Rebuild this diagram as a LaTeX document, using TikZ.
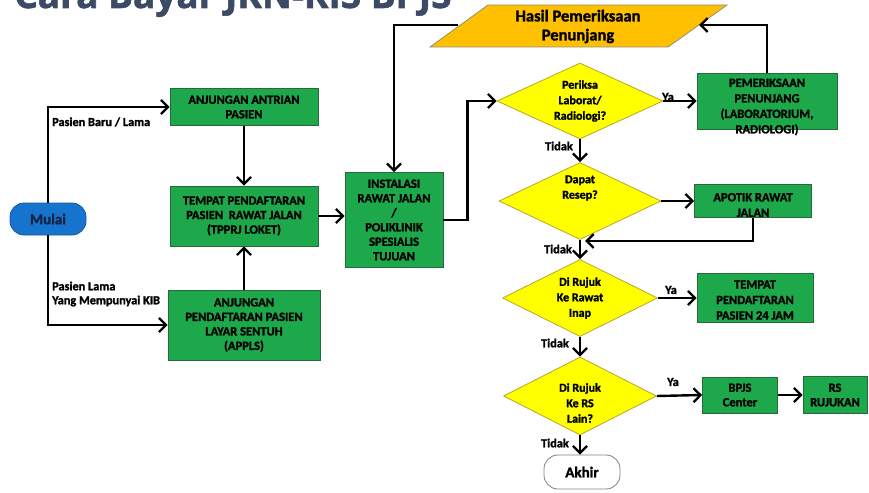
\documentclass[tikz,border=0pt]{standalone}
\usepackage{fontspec}
\setmainfont{Carlito}[BoldFeatures={FakeBold=1.6}]
\newfontfamily\titlefont{Open Sans}[BoldFeatures={FakeBold=1.5}]
\usetikzlibrary{shapes.geometric,arrows.meta}
\definecolor{boxgreen}{RGB}{30,168,76}
\definecolor{boxborder}{RGB}{40,105,60}
\definecolor{decyellow}{RGB}{255,255,0}
\definecolor{decborder}{RGB}{185,165,40}
\definecolor{startblue}{RGB}{22,116,206}
\definecolor{startborder}{RGB}{20,90,160}
\definecolor{hasilfill}{RGB}{255,192,0}
\definecolor{hasilborder}{RGB}{150,140,110}
\definecolor{titleblue}{RGB}{60,74,102}
\definecolor{endborder}{RGB}{130,130,130}
\begin{document}
\begin{tikzpicture}[x=1pt,y=-1pt,
  box/.style={draw=boxborder, fill=boxgreen, line width=0.8pt, inner sep=0pt,
    align=center, font=\bfseries\fontsize{12.5}{14.5}\selectfont},
  dec/.style={diamond, draw=decborder, fill=decyellow, line width=0.8pt, inner sep=0pt},
  dectext/.style={align=center, inner sep=0pt, font=\bfseries\fontsize{12}{15.5}\selectfont},
  boxtext/.style={align=center, inner sep=0pt, font=\bfseries\fontsize{12.5}{15.5}\selectfont},
  terminal/.style={rectangle, rounded corners=14pt, inner sep=0pt,
    font=\bfseries\fontsize{15}{18}\selectfont},
  lbl/.style={inner sep=0pt, align=left, font=\bfseries\fontsize{12.3}{14}\selectfont},
  ln/.style={line width=2.4pt, black},
  arr/.style={ln, -{Straight Barb[length=7pt,width=14pt,line width=2.3pt]}}
]
\useasboundingbox (0,0) rectangle (869,492);
\fill[white] (0,0) rectangle (869,492);

% title (cut by the top edge, as in the reference)
\node[anchor=base west, inner sep=0pt, text=titleblue,
  font=\titlefont\bfseries\fontsize{37}{40}\selectfont] (title) at (14,8) {Cara Bayar JKN-KIS BPJS};

% start / end
\node[terminal, fill=startblue, draw=startborder, line width=0.8pt,
  minimum width=76pt, minimum height=32pt, text={rgb,255:red,20;green,35;blue,70}] (mulai) at (48,219) {Mulai};
\node[terminal, fill=white, draw=endborder, line width=0.8pt,
  minimum width=76pt, minimum height=34pt] (akhir) at (582,472) {Akhir};

% left column
\node[box, minimum width=148pt, minimum height=37pt] (anj) at (244,107) {ANJUNGAN ANTRIAN\\PASIEN};
\node[box, minimum width=148pt, minimum height=60pt] (tpprj) at (244,216) {TEMPAT PENDAFTARAN\\PASIEN\ \ RAWAT JALAN\\(TPPRJ LOKET)};
\node[box, minimum width=152pt, minimum height=70pt] (appls) at (244,325) {ANJUNGAN\\PENDAFTARAN PASIEN\\LAYAR SENTUH\\(APPLS)};
\node[box, minimum width=98pt, minimum height=95pt] (inst) at (394,220) {INSTALASI\\RAWAT JALAN\\/\\POLIKLINIK\\SPESIALIS\\TUJUAN};

% parallelogram
\draw[fill=hasilfill, draw=hasilborder, line width=0.8pt] (430,47) -- (668,47) -- (727,5) -- (488,5) -- cycle;
\node[align=center, inner sep=0pt, font=\bfseries\fontsize{16.5}{19}\selectfont] (hasil) at (578,26.5) {Hasil Pemeriksaan\\Penunjang};
\coordinate (parR) at (699,25);
\coordinate (parL) at (458,25);

% decisions
\node[dec, minimum width=166pt, minimum height=76pt,
  label={[dectext]center:Periksa\\Laborat/\\Radiologi?}] (d1) at (580,101) {};
\node[dec, minimum width=162pt, minimum height=77pt,
  label={[dectext, yshift=13pt]center:Dapat\\Resep?}] (d2) at (580,201) {};
\node[dec, minimum width=155pt, minimum height=77pt,
  label={[dectext]center:Di Rujuk\\Ke Rawat\\Inap}] (d3) at (580,298) {};
\node[dec, minimum width=153pt, minimum height=78pt,
  label={[dectext, yshift=-7pt]center:Di Rujuk\\Ke RS\\Lain?}] (d4) at (580,396) {};

% right column
\node[box, minimum width=140pt, minimum height=56pt,
  label={[boxtext, yshift=-6pt]center:PEMERIKSAAN\\PENUNJANG\\(LABORATORIUM,\\RADIOLOGI)}] (pem) at (767,101) {};
\node[box, minimum width=117pt, minimum height=33pt,
  label={[boxtext, yshift=-4pt]center:APOTIK RAWAT\\JALAN}] (apotik) at (753,201) {};
\node[box, minimum width=116pt, minimum height=49pt,
  label={[boxtext, yshift=-2pt]center:TEMPAT\\PENDAFTARAN\\PASIEN 24 JAM}] (t24) at (755,298) {};
\node[box, minimum width=75pt, minimum height=36pt] (bpjs) at (740,395) {BPJS\\Center};
\node[box, minimum width=64pt, minimum height=37pt] (rs) at (835,395) {RS\\RUJUKAN};
\coordinate (joinA) at (585,241);

% labels
\node[lbl, anchor=west] (lbaru) at (52,122) {Pasien Baru / Lama};
\node[lbl, anchor=west] (llama) at (52,294) {Pasien Lama\\Yang Mempunyai KIB};
\node[lbl, anchor=east] (t1) at (573,146) {Tidak};
\node[lbl, anchor=east] (t2) at (572,249) {Tidak};
\node[lbl, anchor=east] (t3) at (569,343) {Tidak};
\node[lbl, anchor=east] (t4) at (569,443) {Tidak};
\node[lbl, anchor=west] (y1) at (662,97) {Ya};
\node[lbl, anchor=west] (y3) at (665,290) {Ya};
\node[lbl, anchor=west] (y4) at (667,382) {Ya};

% connectors
\draw[arr] (mulai.north) |- (anj.west);
\draw[arr] (mulai.south) |- (appls.west);
\draw[arr] (anj) -- (tpprj);
\draw[arr] (appls) -- (tpprj);
\draw[arr] (tpprj.east) -- (tpprj.east -| inst.west);
\draw[arr] (inst.east) -- ++(24,0) |- (d1.west);
\draw[arr] (d1.east) -- (pem.west);
\draw[arr] (pem.north) |- (parR);
\draw[arr] (parL) -| (inst.north);
\draw[arr] (d1.south) -- (d2.north);
\draw[arr] (d2.east) -- (apotik.west);
\draw[arr] (apotik.south) |- (joinA);
\draw[arr] (d2.south) -- (d3.north);
\draw[arr] (d3.east) -- (t24.west);
\draw[arr] (d3.south) -- (d4.north);
\draw[arr] (d4.east) -- (bpjs.west);
\draw[arr] (bpjs) -- (rs);
\draw[arr] (d4.south) -- (d4.south |- akhir.north);
\end{tikzpicture}
\end{document}
